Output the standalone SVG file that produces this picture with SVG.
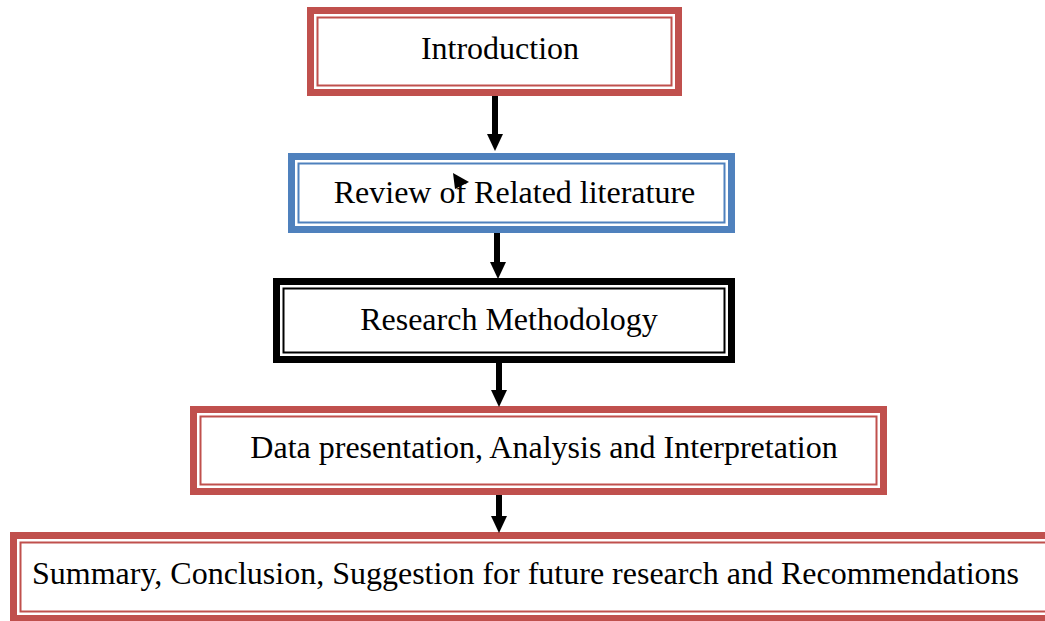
<svg xmlns="http://www.w3.org/2000/svg" width="1045" height="621" viewBox="0 0 1045 621">
<style>
.red{stroke:#C0504D}
.blue{stroke:#4F81BD}
.blk{stroke:#000}
.thick{fill:#fff;stroke-width:7}
.thin{fill:none;stroke-width:2}
.lbl{font-family:"Liberation Serif","Times New Roman",serif;font-size:32px;fill:#000}
.shaft{stroke:#000;stroke-width:6;fill:none}
.head{fill:#000}
</style>
<rect width="1045" height="621" fill="#fff"/>
<g id="intro">
<rect class="thick red" x="310.5" y="10.5" width="368" height="82"/>
<rect class="thin red" x="317.5" y="17.5" width="354" height="68"/>
<text class="lbl" x="500" y="59" text-anchor="middle">Introduction</text>
</g>
<g id="review">
<rect class="thick blue" x="291.5" y="156.5" width="440" height="73"/>
<rect class="thin blue" x="298.5" y="163.5" width="426" height="59"/>
<text class="lbl" x="514.5" y="203" text-anchor="middle">Review of Related literature</text>
</g>
<g id="method">
<rect class="thick blk" x="276.5" y="281.5" width="455" height="78"/>
<rect class="thin blk" x="283.5" y="288.5" width="441" height="64"/>
<text class="lbl" x="509" y="330" text-anchor="middle">Research Methodology</text>
</g>
<g id="data">
<rect class="thick red" x="193.5" y="409.5" width="690" height="82"/>
<rect class="thin red" x="200.5" y="416.5" width="676" height="68"/>
<text class="lbl" x="544" y="458" text-anchor="middle">Data presentation, Analysis and Interpretation</text>
</g>
<g id="summary">
<rect class="thick red" x="13.5" y="535.5" width="1040" height="83"/>
<rect class="thin red" x="20.5" y="542.5" width="1030" height="69"/>
<text class="lbl" x="32" y="584">Summary, Conclusion, Suggestion for future research and Recommendations</text>
</g>
<g id="connectors">
<line class="shaft" x1="495" y1="96" x2="495" y2="137"/>
<polygon class="head" points="487,134 503,134 495,151"/>
<line class="shaft" x1="497" y1="233" x2="497" y2="265"/>
<polygon class="head" points="490,262 506,262 498,279"/>
<line class="shaft" x1="499" y1="363" x2="499" y2="393"/>
<polygon class="head" points="491,390 507,390 499,407"/>
<line class="shaft" x1="499" y1="495" x2="499" y2="519"/>
<polygon class="head" points="491,516 507,516 499,533"/>
<polygon class="head" points="453,173 469,182 455,189"/>
</g>
</svg>
